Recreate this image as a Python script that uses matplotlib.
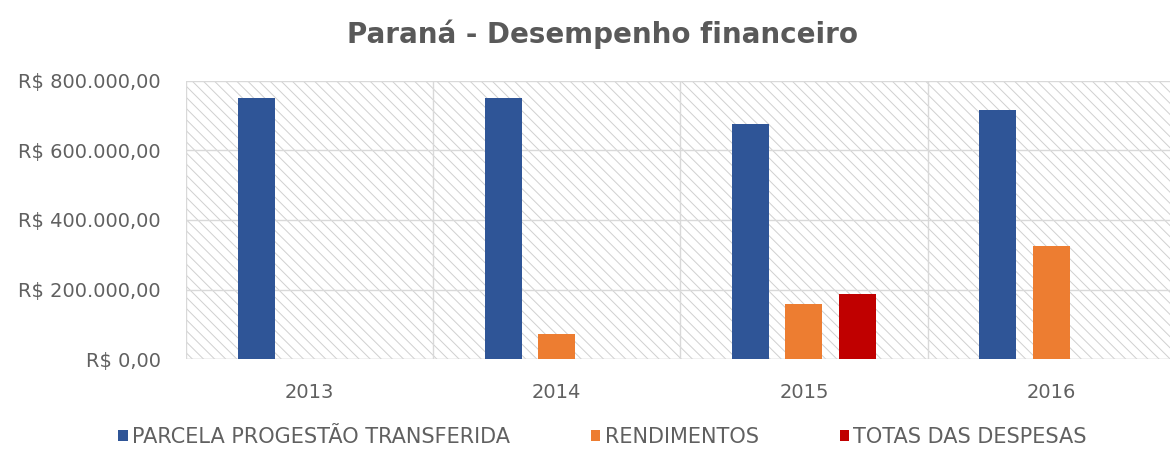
import matplotlib
matplotlib.use('Agg')
import matplotlib.pyplot as plt
import matplotlib.ticker as mticker
import numpy

# data
years = ['2013', '2014', '2015', '2016']
series_names = ['PARCELA PROGESTÃO TRANSFERIDA', 'RENDIMENTOS', 'TOTAS DAS DESPESAS']
parcela = [751000, 750000, 676000, 717000]
rendimentos = [0, 72000, 158000, 325000]
despesas = [0, 0, 187000, 0]
colors = ['#2F5597', '#ED7D31', '#C00000']

plt.rcParams['font.family'] = ['DejaVu Sans']
plt.rcParams['hatch.linewidth'] = 0.7
plt.rcParams['hatch.color'] = '#d0d0d0'
textcol = '#606060'

fig = plt.figure(figsize=(11.7, 4.53), dpi=100)
ax = fig.add_axes([0.159, 0.2075, 0.845, 0.6137])

# hatched background
ax.patch.set_facecolor('white')
bg = plt.Rectangle((0, 0), 1, 1, transform=ax.transAxes, facecolor='white',
                   edgecolor='#d0d0d0', hatch='\\\\\\', linewidth=0, zorder=0)
ax.add_patch(bg)

x = numpy.arange(len(years))
width = 0.15
offset = 0.216
for i, (vals, name) in enumerate(zip([parcela, rendimentos, despesas], series_names)):
    ax.bar(x + (i - 1) * offset, vals, width, color=colors[i], label=name, zorder=3)

ax.set_xlim(-0.5, 3.5)
ax.set_ylim(0, 800000)
ax.set_yticks(numpy.arange(0, 800001, 200000))

def brl(v, pos):
    s = '{:,.2f}'.format(v).replace(',', 'X').replace('.', ',').replace('X', '.')
    return 'R$ ' + s
ax.yaxis.set_major_formatter(mticker.FuncFormatter(brl))
ax.set_xticks(x)
ax.set_xticklabels(years)

# gridlines, vertical dividers between categories
ax.set_xticks(numpy.arange(-0.5, 3.6, 1), minor=True)
ax.grid(axis='y', which='major', color='#d9d9d9', linewidth=1, zorder=1)
ax.grid(axis='x', which='minor', color='#d9d9d9', linewidth=1, zorder=1)
ax.tick_params(axis='both', which='both', length=0, colors=textcol, labelsize=14)
ax.tick_params(axis='x', pad=17)
ax.tick_params(axis='y', pad=18)
for s in ax.spines.values():
    s.set_visible(False)
ax.axhline(0, color='#d9d9d9', linewidth=1, zorder=2)

fig.text(0.515, 0.925, 'Paraná - Desempenho financeiro', ha='center', va='center',
         fontsize=20, color='#595959', fontweight='bold')

handles, labels = ax.get_legend_handles_labels()
fig.legend(handles, labels, loc='center', bbox_to_anchor=(0.515, 0.035), ncol=3, frameon=False,
           fontsize=15, labelcolor=textcol, handlelength=0.45, handleheight=0.45,
           handletextpad=0.2, columnspacing=3.9)

plt.savefig('out.png', dpi=100)
